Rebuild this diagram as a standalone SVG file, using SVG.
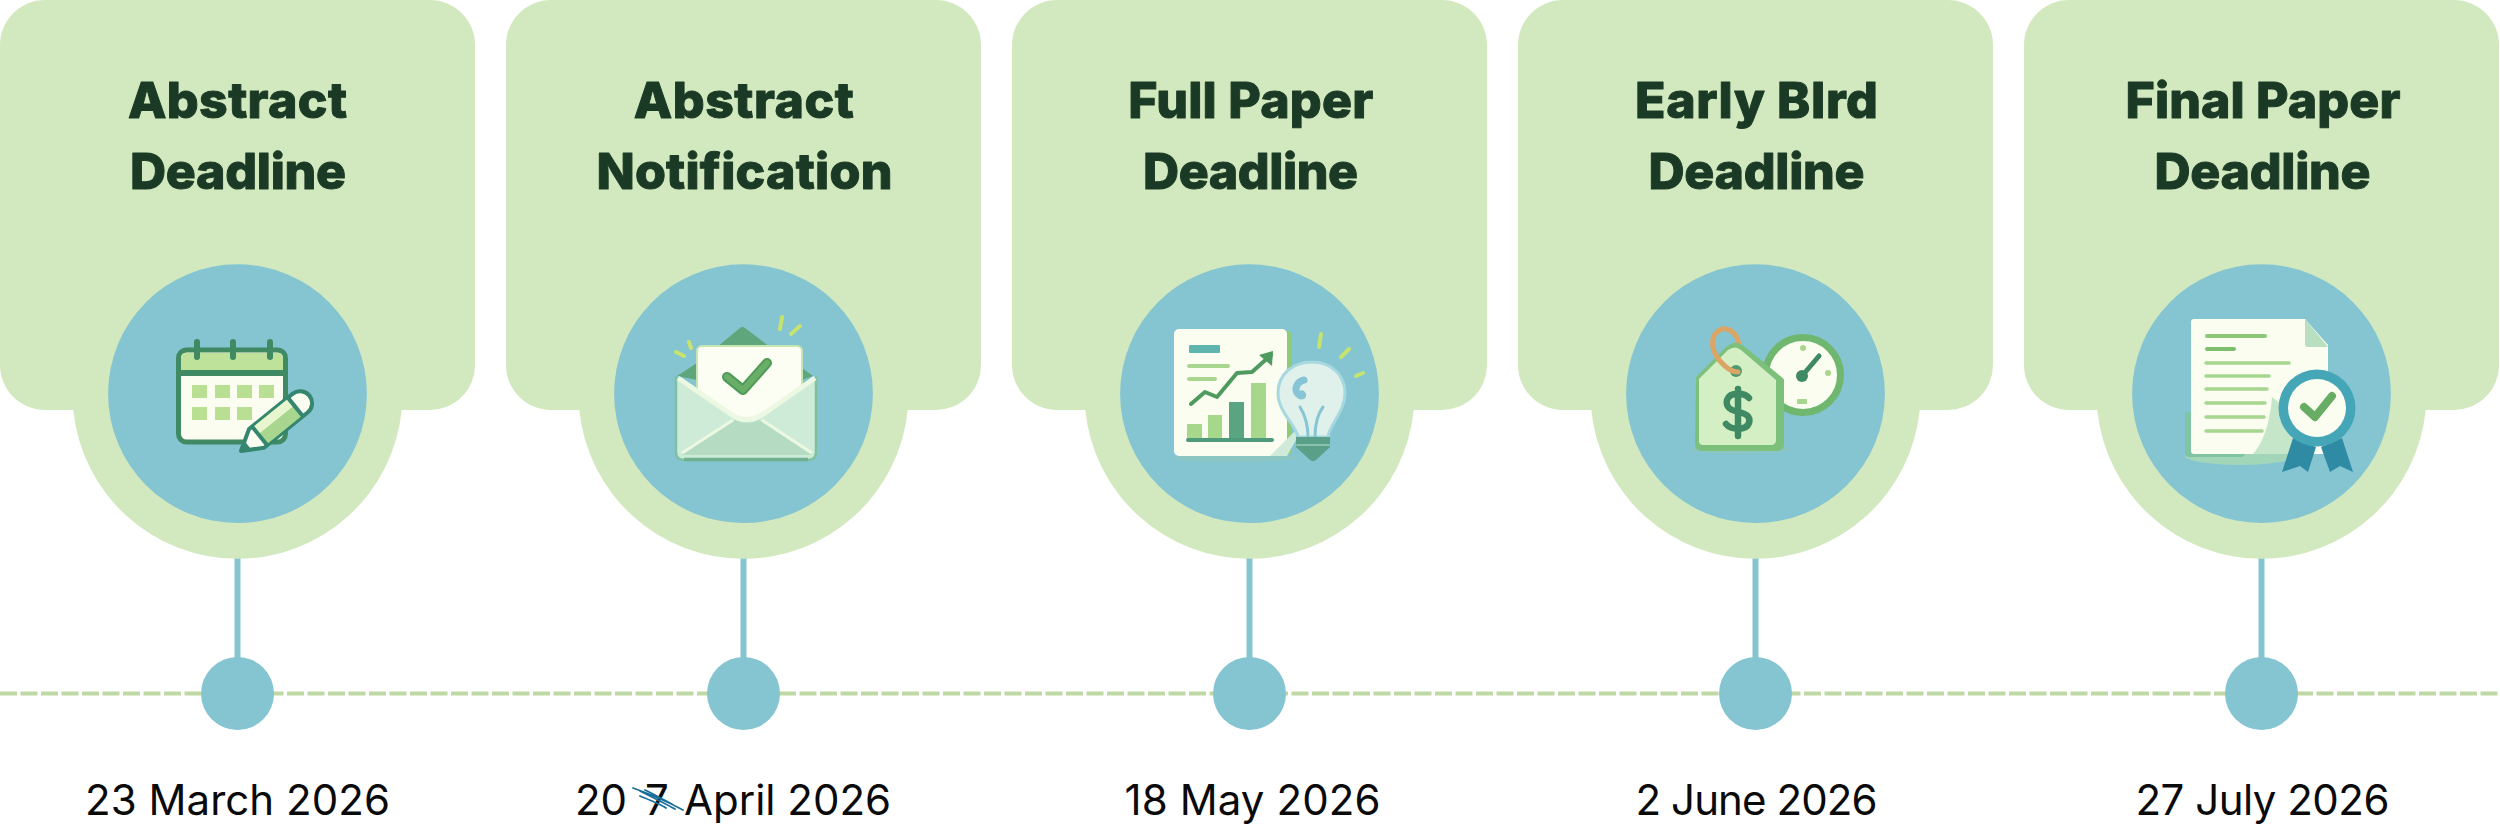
<svg xmlns="http://www.w3.org/2000/svg" width="2500" height="839" viewBox="0 0 2500 839">
<style>
.card{fill:#d2e9bf}
.disc{fill:#85c4d1}
.title{font-family:"Inter","Liberation Sans",sans-serif;font-weight:800;font-size:50px;fill:#1b3a26;text-anchor:middle;stroke:#1b3a26;stroke-width:1px;stroke-linejoin:round}
.date{font-family:"Inter","Liberation Sans",sans-serif;font-weight:400;font-size:42px;fill:#0a0a0a;text-anchor:middle}
.stem{stroke:#85c4d1;stroke-width:6;fill:none}
.spine{stroke:#bfd9a5;stroke-width:4;stroke-dasharray:17 3.500;fill:none}
.spark{stroke:#c6e36f;stroke-width:4;stroke-linecap:round;fill:none}
.paper{fill:#fbfdf0}
.ln{stroke-linecap:round;fill:none}
</style>
<defs>
<path id="cardShape" d="M45 0H430A45 45 0 0 1 475 45V365A45 45 0 0 1 430 410H401.700A165 165 0 0 1 73.300 410H45A45 45 0 0 1 0 365V45A45 45 0 0 1 45 0Z"/>
</defs>
<g id="connectors">
<line class="spine" x1="0" y1="693.500" x2="2500" y2="693.500"/>
<line class="stem" x1="237.500" y1="555" x2="237.500" y2="660"/>
<line class="stem" x1="743.500" y1="555" x2="743.500" y2="660"/>
<line class="stem" x1="1249.500" y1="555" x2="1249.500" y2="660"/>
<line class="stem" x1="1755.500" y1="555" x2="1755.500" y2="660"/>
<line class="stem" x1="2261.500" y1="555" x2="2261.500" y2="660"/>
</g>
<g id="node-abstract-deadline">
<use href="#cardShape" class="card"/>
<circle class="disc" cx="237.500" cy="393.700" r="129.400"/>
<text class="title" x="237.500" y="118" textLength="219">Abstract</text>
<text class="title" x="238" y="188.500" textLength="216">Deadline</text>
<g id="icon-calendar">
<rect x="178.500" y="350" width="107" height="92" rx="8" fill="#fbfdf0" stroke="#3f8a63" stroke-width="5"/>
<path d="M181 371V358a5 5 0 0 1 5-5H278a5 5 0 0 1 5 5V371Z" fill="#bfe29a"/>
<rect x="178.500" y="370" width="107" height="6" fill="#3f8a63"/>
<g class="ln" stroke="#3f8a63" stroke-width="6"><path d="M197 342V357M233 342V357M270 342V357"/></g>
<g fill="#b9df93"><rect x="192" y="385" width="15" height="13"/><rect x="215" y="385" width="15" height="13"/><rect x="237" y="385" width="15" height="13"/><rect x="259" y="385" width="15" height="13"/><rect x="192" y="407" width="15" height="13"/><rect x="215" y="407" width="15" height="13"/><rect x="237" y="407" width="15" height="13"/></g>
<g transform="translate(241 451) rotate(-39)">
<path d="M0 0L20 -12H76a12 12 0 0 1 0 24H20Z" fill="#fbfdf0" stroke="#35866f" stroke-width="4" stroke-linejoin="round"/>
<rect x="24" y="-11" width="46" height="22" fill="#a9d68f"/>
<rect x="24" y="-11" width="46" height="9" fill="#e8f6cf"/>
<path d="M24 -12V12M70 -12V12" stroke="#35866f" stroke-width="4"/>
<path d="M0 0L9 -6V6Z" fill="#35866f"/>
</g>
</g>
</g>
<g id="node-abstract-notification">
<use href="#cardShape" x="506" class="card"/>
<circle class="disc" cx="743.500" cy="393.700" r="129.400"/>
<text class="title" x="743.800" y="118" textLength="220">Abstract</text>
<text class="title" x="744.400" y="188.500" textLength="296">Notification</text>
<g id="icon-envelope">
<path d="M717 347L740 328Q742 326 745 328L770 347ZM677 376L697 363V380ZM813 376L802 368V380Z" fill="#5fa67c"/>
<rect x="697" y="346" width="105" height="72" rx="5" fill="#fdfef3" stroke="#c5e6b0" stroke-width="2"/>
<path d="M727 377L743 390L767 363" fill="none" stroke="#4f9a5a" stroke-width="10" stroke-linecap="round" stroke-linejoin="round"/>
<path d="M727 377L743 390L767 363" fill="none" stroke="#69ae66" stroke-width="6" stroke-linecap="round" stroke-linejoin="round"/>
<path d="M676 378V452Q676 460 684 460H808Q816 460 816 452V378L762 414Q747 424 732 414Z" fill="#cdebd6" stroke="#7fc0a0" stroke-width="2.500"/>
<path d="M681 455L735 420Q747 426 759 420L812 455Z" fill="#b5dcc2"/>
<path d="M678 378L732 415Q747 424 762 415L815 378" fill="none" stroke="#ecf8e2" stroke-width="5"/>
<path d="M682 453L733 420M812 453L762 420" fill="none" stroke="#ecf8e2" stroke-width="3"/>
<path d="M684 459.500H808" stroke="#6cb091" stroke-width="3.500" fill="none"/>
<path class="spark" d="M782 317L780 329M800 326L791 334M689 342L691 348M676 352L684 356"/>
</g>
</g>
<g id="node-full-paper">
<use href="#cardShape" x="1012" class="card"/>
<circle class="disc" cx="1249.500" cy="393.700" r="129.400"/>
<text class="title" x="1250.800" y="118" textLength="245">Full Paper</text>
<text class="title" x="1250.500" y="188.500" textLength="215">Deadline</text>
<g id="icon-report">
<ellipse cx="1235" cy="458" rx="62" ry="4" fill="#8dc8bd" opacity=".7"/>
<rect x="1176" y="331" width="116" height="124" rx="5" fill="#8fcc78"/>
<rect x="1174" y="329" width="113" height="127" rx="5" class="paper"/>
<path d="M1270 456H1287L1296 440V430Z" fill="#cfeada"/>
<rect x="1189" y="345" width="31" height="8" rx="1" fill="#5db5ad"/>
<path class="ln" stroke="#a9d68f" stroke-width="4" d="M1189 366H1228M1189 379H1215"/>
<path d="M1191 404L1205 392L1217 397L1237 373L1252 372L1271 355" fill="none" stroke="#4e9a5f" stroke-width="4" stroke-linecap="round" stroke-linejoin="round"/>
<path d="M1259 355L1273 351L1272 366Z" fill="#4e9a5f"/>
<rect x="1187" y="424" width="15" height="15" fill="#a5d88a"/>
<rect x="1208" y="415" width="14" height="24" fill="#a5d88a"/>
<rect x="1229" y="402" width="15" height="37" fill="#5aa581"/>
<rect x="1251" y="383" width="15" height="56" fill="#a5d88a"/>
<path class="ln" stroke="#4f9a7a" stroke-width="4" d="M1188 440H1272"/>
<path d="M1298 437C1296 425 1278 412 1278 393C1278 374 1293 362 1312 362C1331 362 1345 375 1345 393C1345 412 1329 425 1328 437Z" fill="#dff1ea" stroke="#a6d8df" stroke-width="3"/>
<path class="ln" stroke="#86c6d4" stroke-width="3" d="M1300 407C1305 415 1308 425 1308 437M1323 407C1317 415 1315 425 1315 437"/>
<path class="ln" stroke="#86c4d6" stroke-width="7" d="M1304 380C1296 382 1294 390 1298 394C1301 397 1304 396 1302 394"/>
<path d="M1296 437H1330V447L1316 460Q1313 462 1310 460L1296 447Z" fill="#5aa088"/>
<path class="ln" stroke="#8ac3ad" stroke-width="2" d="M1297 445H1329"/>
<path class="spark" d="M1321 334L1319 347M1349 349L1341 357M1363 373L1356 376"/>
</g>
</g>
<g id="node-early-bird">
<use href="#cardShape" x="1518" class="card"/>
<circle class="disc" cx="1755.500" cy="393.700" r="129.400"/>
<text class="title" x="1756.500" y="118" textLength="243">Early BIrd</text>
<text class="title" x="1756.500" y="188.500" textLength="216">Deadline</text>
<g id="icon-tag">
<ellipse cx="1740" cy="449" rx="50" ry="5" fill="#8dc8bd" opacity=".7"/>
<circle cx="1803" cy="375" r="37.500" fill="#fbfdf0" stroke="#6fb76f" stroke-width="7"/>
<circle cx="1803" cy="348" r="3" fill="#a9d68f"/><circle cx="1828" cy="373" r="3" fill="#a9d68f"/>
<rect x="1797" y="399" width="10" height="5" rx="1" fill="#a9d68f"/>
<path d="M1802 376L1819 356" stroke="#3f8a63" stroke-width="5" stroke-linecap="round"/>
<circle cx="1802" cy="376" r="6" fill="#3f8a63"/>
<path d="M1739 345C1737 330 1725 326 1718 331" fill="none" stroke="#dba566" stroke-width="5"/>
<path d="M1698 378L1728 348Q1735 342 1742 347L1782 380V444Q1782 449 1777 449H1702Q1697 449 1697 444Z" fill="#7cc07c" stroke="#7cc07c" stroke-width="4" stroke-linejoin="round"/>
<path d="M1699 379L1728 350Q1735 345 1741 350L1776 380V440Q1776 445 1771 445H1703Q1699 445 1699 441Z" fill="#d4efc4"/>
<circle cx="1736" cy="371" r="6" fill="#4f9a6f"/>
<path d="M1718 331C1709 338 1712 352 1720 361C1726 368 1732 372 1738 372" fill="none" stroke="#dba566" stroke-width="5" stroke-linecap="round"/>
<path class="ln" stroke="#3f8a63" stroke-width="6.500" d="M1749 398C1745 393 1730 391 1727 400C1725 410 1735 411 1739 412C1746 414 1751 416 1749 423C1746 431 1731 430 1726 424M1738 389V436"/>
</g>
</g>
<g id="node-final-paper">
<use href="#cardShape" x="2024" class="card"/>
<circle class="disc" cx="2261.500" cy="393.700" r="129.400"/>
<text class="title" x="2263" y="118" textLength="275">Final Paper</text>
<text class="title" x="2262.500" y="188.500" textLength="216">Deadline</text>
<g id="icon-certificate">
<ellipse cx="2240" cy="456" rx="55" ry="9" fill="#a3d6b8"/>
<rect x="2185" y="412" width="60" height="45" rx="4" fill="#7fc4a3"/>
<path d="M2194 319H2305L2328 345V451Q2328 454 2325 454H2194Q2191 454 2191 451V322Q2191 319 2194 319Z" class="paper"/>
<path d="M2305 319V344Q2305 347 2308 347H2328Z" fill="#b8e0c0"/>
<path class="ln" stroke="#8cc878" stroke-width="4" d="M2207 336H2265"/>
<path class="ln" stroke="#7dbf6c" stroke-width="4" d="M2207 349H2234"/>
<path class="ln" stroke="#a6d68f" stroke-width="3.500" d="M2206 363H2289M2206 376H2269M2206 389H2267M2206 403H2265M2206 417H2264M2206 431H2262"/>
<path d="M2272 397C2270 425 2262 444 2253 454H2300L2315 430Z" fill="#c5e6c8"/>
<path d="M2293 438L2282 472L2300 466L2308 472L2316 447Z" fill="#2f8ba3"/>
<path d="M2321 447L2330 472L2340 466L2353 472L2342 438Z" fill="#2f8ba3"/>
<circle cx="2317" cy="408" r="38.500" fill="#45a6b8"/>
<circle cx="2317" cy="408" r="29" fill="#fbfdf0"/>
<path d="M2304 407L2315 417L2332 396" fill="none" stroke="#68ad64" stroke-width="8" stroke-linecap="round" stroke-linejoin="round"/>
</g>
</g>
<g id="timeline-dots">
<circle class="disc" cx="237.500" cy="693.500" r="36.500"/>
<circle class="disc" cx="743.500" cy="693.500" r="36.500"/>
<circle class="disc" cx="1249.500" cy="693.500" r="36.500"/>
<circle class="disc" cx="1755.500" cy="693.500" r="36.500"/>
<circle class="disc" cx="2261.500" cy="693.500" r="36.500"/>
</g>
<g id="dates">
<text class="date" x="237.500" y="815" textLength="305">23 March 2026</text>
<text class="date" y="815" style="text-anchor:start"><tspan x="575">20</tspan> <tspan x="645">7</tspan> <tspan x="684">April 2026</tspan></text>
<text class="date" x="1252.500" y="815" textLength="256">18 May 2026</text>
<text class="date" x="1756.500" y="815" textLength="242">2 June 2026</text>
<text class="date" x="2262.500" y="815" textLength="254">27 July 2026</text>
</g>
<g id="correction" fill="none" stroke="#1a6f9a" stroke-width="1.800" stroke-linecap="round">
<path d="M633 788C650 794 668 802 683 810M640 791C652 797 664 803 675 809M640 796C652 801 662 805 666 808M645 790C655 795 666 801 672 804"/>
</g>
</svg>
